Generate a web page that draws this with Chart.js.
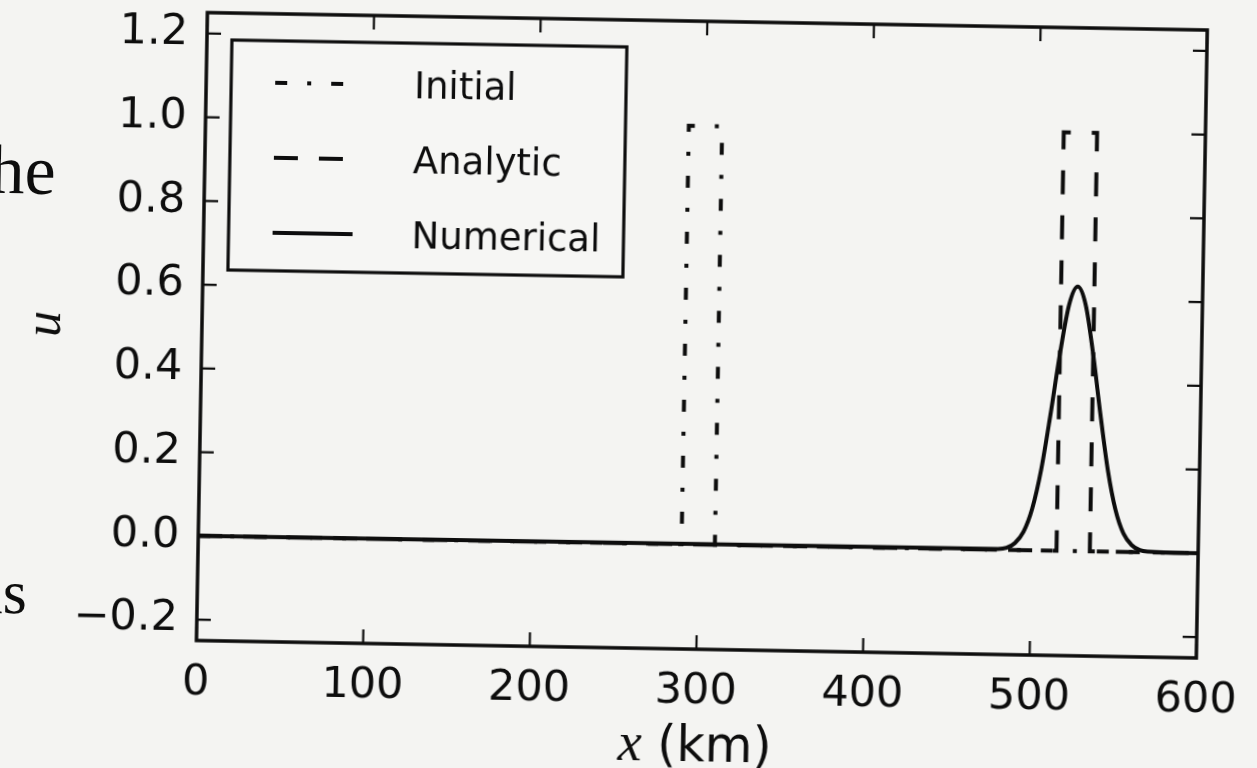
<!DOCTYPE html>
<html>
<head>
<meta charset="utf-8">
<script src="https://cdn.jsdelivr.net/npm/chart.js@4.4.1/dist/chart.umd.min.js"></script>
<style>
  html, body { margin: 0; padding: 0; background: #f4f4f2; overflow: hidden; }
  #page { position: relative; width: 1257px; height: 768px; transform: rotate(1deg); transform-origin: 628px 384px; }
  #chart { position: absolute; left: 0; top: 0; }
  .bleed { position: absolute; font-family: "Liberation Serif", serif; color: #0d0d0d; line-height: 1; white-space: nowrap; }
</style>
</head>
<body>
<div id="page">
  <div class="bleed" style="left:-14px; top:146px; font-size:70px;">he</div>
  <div class="bleed" style="left:-21px; top:572px; font-size:62px;">as</div>
  <canvas id="chart" width="1257" height="768"></canvas>
</div>
<script>
// tick positions
const xTicks = [0, 100, 200, 300, 400, 500, 600];
const yTicks = [-0.2, 0.0, 0.2, 0.4, 0.6, 0.8, 1.0, 1.2];

// Initial square pulse
const initialX = [0, 290, 290, 310, 310, 600];
const initialU = [0, 0, 1.0, 1.0, 0, 0];

// Analytic (advected pulse)
const analyticX = [0, 515, 515, 535, 535, 600];
const analyticU = [0, 0, 1.0, 1.0, 0, 0];

// Numerical solution
const numericalX = [0, 480, 485, 490, 495, 500, 505, 510, 515, 520, 525, 530, 535, 540, 545, 550, 555, 560, 565, 570, 600];
const numericalU = [0, 0.002, 0.005, 0.017, 0.044, 0.1, 0.194, 0.326, 0.47, 0.588, 0.632, 0.588, 0.47, 0.326, 0.194, 0.1, 0.044, 0.017, 0.005, 0.002, 0];

const ink = '#0d0d0d';
const sans = '"DejaVu Sans", sans-serif';

const toPoints = (xs, ys) => xs.map((x, i) => ({ x, y: ys[i] }));
const fmtY = v => v.toFixed(1).replace('-', '\u2212');

const frameAndLegend = {
    id: 'frameAndLegend',
    afterDatasetsDraw(chart) {
        const { ctx, chartArea: a, scales: { x, y } } = chart;
        const tickLen = 14;
        ctx.save();
        ctx.strokeStyle = ink;
        ctx.lineWidth = 2.2;
        ctx.beginPath();
        xTicks.forEach(v => {
            const px = x.getPixelForValue(v);
            ctx.moveTo(px, a.bottom); ctx.lineTo(px, a.bottom - tickLen);
            ctx.moveTo(px, a.top); ctx.lineTo(px, a.top + tickLen);
        });
        yTicks.forEach(v => {
            const py = y.getPixelForValue(v);
            ctx.moveTo(a.left, py); ctx.lineTo(a.left + tickLen, py);
            ctx.moveTo(a.right, py); ctx.lineTo(a.right - tickLen, py);
        });
        ctx.stroke();

        ctx.lineWidth = 3.5;
        ctx.strokeRect(a.left, a.top, a.right - a.left, a.bottom - a.top);

        // legend box, upper left
        const lx = a.left + 25, ly = a.top + 27, lw = 395, lh = 230;
        ctx.fillStyle = '#f6f6f4';
        ctx.fillRect(lx, ly, lw, lh);
        ctx.lineWidth = 3.2;
        ctx.strokeRect(lx, ly, lw, lh);
        ctx.font = '37px ' + sans;
        ctx.textBaseline = 'middle';
        chart.data.datasets.forEach((ds, i) => {
            const ry = ly + 42 + i * 75;
            ctx.beginPath();
            ctx.setLineDash(ds.borderDash || []);
            ctx.lineWidth = ds.borderWidth;
            ctx.moveTo(lx + 44, ry);
            ctx.lineTo(lx + 124, ry);
            ctx.stroke();
            ctx.setLineDash([]);
            ctx.fillStyle = ink;
            ctx.fillText(ds.label, lx + 183, ry + 3);
        });

        // axis titles
        ctx.fillStyle = ink;
        ctx.save();
        ctx.translate(45, (a.top + a.bottom) / 2);
        ctx.rotate(-Math.PI / 2);
        ctx.font = 'italic 52px "Liberation Serif", serif';
        ctx.textAlign = 'center';
        ctx.textBaseline = 'middle';
        ctx.fillText('u', 0, 0);
        ctx.restore();

        const xFont = 'italic 54px "Liberation Serif", serif';
        const kmFont = '49px ' + sans;
        ctx.font = xFont;
        const w1 = ctx.measureText('x').width;
        ctx.font = kmFont;
        const w2 = ctx.measureText(' (km)').width;
        const cx = (a.left + a.right) / 2 - (w1 + w2) / 2;
        ctx.textAlign = 'left';
        ctx.textBaseline = 'alphabetic';
        ctx.font = xFont;
        ctx.fillText('x', cx, 760);
        ctx.font = kmFont;
        ctx.fillText(' (km)', cx + w1, 760);
        ctx.restore();
    }
};

new Chart(document.getElementById('chart').getContext('2d'), {
    type: 'scatter',
    data: {
        datasets: [
            {
                label: 'Initial',
                data: toPoints(initialX, initialU),
                showLine: true,
                borderColor: ink,
                borderWidth: 4,
                borderDash: [12, 20, 4, 20],
                pointRadius: 0,
                order: 2
            },
            {
                label: 'Analytic',
                data: toPoints(analyticX, analyticU),
                showLine: true,
                borderColor: ink,
                borderWidth: 4,
                borderDash: [24, 21],
                pointRadius: 0,
                order: 1
            },
            {
                label: 'Numerical',
                data: toPoints(numericalX, numericalU),
                showLine: true,
                borderColor: ink,
                borderWidth: 4,
                cubicInterpolationMode: 'monotone',
                pointRadius: 0,
                order: 0
            }
        ]
    },
    options: {
        responsive: false,
        animation: false,
        devicePixelRatio: 1,
        layout: { padding: { top: 20, right: 56, left: 0, bottom: 0 } },
        plugins: { legend: { display: false }, tooltip: { enabled: false } },
        scales: {
            x: {
                type: 'linear',
                min: 0,
                max: 600,
                afterBuildTicks: s => { s.ticks = xTicks.map(v => ({ value: v })); },
                afterFit: s => { s.height = 120; s.paddingLeft = 0; s.paddingRight = 0; },
                grid: { display: false },
                border: { display: false },
                ticks: {
                    font: { family: sans, size: 43 },
                    color: ink,
                    padding: 9,
                    maxRotation: 0,
                    autoSkip: false,
                    callback: v => String(v)
                }
            },
            y: {
                type: 'linear',
                min: -0.25,
                max: 1.25,
                afterBuildTicks: s => { s.ticks = yTicks.map(v => ({ value: v })); },
                afterFit: s => { s.width = 201; s.paddingTop = 0; s.paddingBottom = 0; },
                grid: { display: false },
                border: { display: false },
                ticks: {
                    font: { family: sans, size: 43 },
                    color: ink,
                    padding: 11,
                    autoSkip: false,
                    callback: v => fmtY(v)
                }
            }
        }
    },
    plugins: [frameAndLegend]
});
</script>
</body>
</html>
